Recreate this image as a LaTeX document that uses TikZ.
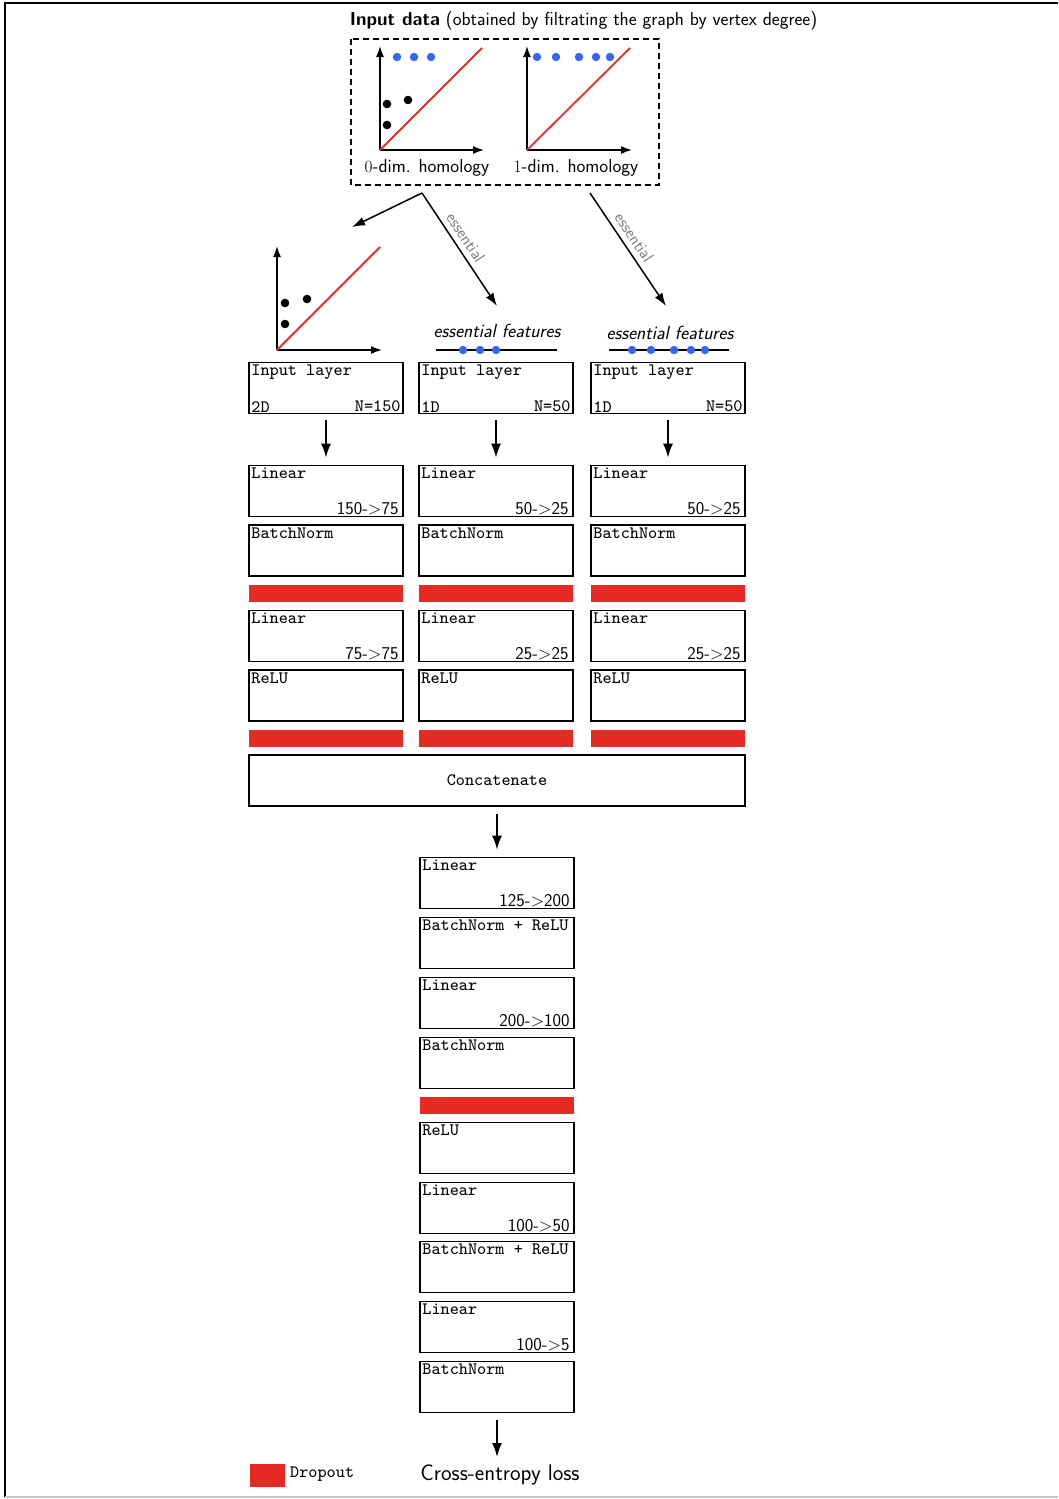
\documentclass[tikz,border=0pt]{standalone}
\usepackage{fontspec}
\usetikzlibrary{arrows.meta}
\newfontfamily\boxtt{lmmono9-regular}[Extension=.otf]
\definecolor{dropred}{RGB}{229,43,35}
\definecolor{diagred}{RGB}{232,45,40}
\definecolor{dotblue}{RGB}{55,100,240}
\newcommand\boxTL[2]{\node[anchor=north west, inner xsep=3pt, inner ysep=3pt, lab] at (#1.north west) {#2};}
\newcommand\boxBL[2]{\node[anchor=south west, inner xsep=3pt, inner ysep=2pt, lab] at (#1.south west) {#2};}
\newcommand\boxBR[2]{\node[anchor=south east, inner xsep=3pt, inner ysep=2pt, lab] at (#1.south east) {#2};}
\newcommand\boxBRs[2]{\node[anchor=south east, inner xsep=5pt, inner ysep=2pt, labs] at (#1.south east) {#2};}
\begin{document}
\begin{tikzpicture}[x=1pt,y=-1pt,
  layer/.style={draw, line width=1.6pt, minimum width=154pt, minimum height=51pt, inner sep=0pt},
  drop/.style={fill=dropred, minimum width=154pt, minimum height=17pt, inner sep=0pt},
  lab/.style={font=\fontsize{17.4}{20}\selectfont\boxtt},
  labs/.style={font=\fontsize{18}{21}\selectfont\sffamily},
  arr/.style={line width=1.8pt, -{Latex[length=14pt,width=10pt]}},
  axis/.style={line width=1.6pt, -{Latex[length=11pt,width=8pt]}},
  diag/.style={diagred, line width=1.8pt},
  bdot/.style={fill=black},
  udot/.style={fill=dotblue},
  esslab/.style={font=\fontsize{17}{19}\selectfont\sffamily, text=gray},
  txt/.style={font=\fontsize{18.8}{22}\selectfont\sffamily}
]
\useasboundingbox (0,0) rectangle (1058,1499);
% frame
\draw[line width=1.4pt] (5,1497) -- (5,3) -- (1058,3);
\draw[black!22, line width=1.6pt] (5,1497) -- (1058,1497);

% title
\node[txt] (title) at (583.5,21) {\textbf{Input data} (obtained by filtrating the graph by vertex degree)};
\draw[line width=1.5pt, dash pattern=on 6pt off 4pt] (351,39) rectangle (659,185);

% plot 0-dim
\draw[axis] (380,150) -- (380,46);
\draw[axis] (380,150) -- (484,150);
\draw[diag] (380,150) -- (482,48);
\foreach \x in {397,414,431} \fill[udot] (\x,57) circle (4.2pt);
\fill[bdot] (387,104) circle (4.3pt) (408,100) circle (4.3pt) (387,125) circle (4.3pt);
\node[txt] (l0) at (427,168) {$0$-dim. homology};

% plot 1-dim
\draw[axis] (527,150) -- (527,46);
\draw[axis] (527,150) -- (632,150);
\draw[diag] (527,150) -- (630,48);
\foreach \x in {537,556,579,596,610} \fill[udot] (\x,57) circle (4.2pt);
\node[txt] (l1) at (576,168) {$1$-dim. homology};

% split arrows
\coordinate (split) at (422,193);
\coordinate (tip2d) at (352,227);
\coordinate (tipE1) at (497,306);
\coordinate (split2) at (590,193);
\coordinate (tipE2) at (666,306);
\draw[line width=1.5pt, -{Latex[length=13pt,width=9pt]}] (split) -- (tip2d);
\draw[line width=1.5pt, -{Latex[length=13pt,width=9pt]}] (split) -- node[pos=0.45, sloped, above=2pt, esslab] {essential} (tipE1);
\draw[line width=1.5pt, -{Latex[length=13pt,width=9pt]}] (split2) -- node[pos=0.45, sloped, above=2pt, esslab] {essential} (tipE2);

% 2D plot
\draw[axis] (277,350) -- (277,246);
\draw[axis] (277,350) -- (382,350);
\draw[diag] (277,350) -- (380,247);
\fill[bdot] (285,303) circle (4.3pt) (307,299) circle (4.3pt) (285,324) circle (4.3pt);

% essential features
\node[font=\fontsize{19}{22}\selectfont\sffamily\itshape] (ef1) at (497,331) {essential features};
\draw[line width=1.4pt] (436,350) -- (557,350);
\foreach \x in {463,480,496} \fill[udot] (\x,350) circle (4.2pt);
\node[font=\fontsize{19}{22}\selectfont\sffamily\itshape] (ef2) at (670,333) {essential features};
\draw[line width=1.4pt] (609,350) -- (729,350);
\foreach \x in {632,651,674,691,705} \fill[udot] (\x,350) circle (4.2pt);

% column A
\node[layer] (inA) at (326,388) {};
\node[layer] (linA1) at (326,491) {};
\node[layer] (bnA) at (326,550.5) {};
\node[drop] (dA1) at (326,593.5) {};
\node[layer] (linA2) at (326,636) {};
\node[layer] (reA) at (326,695.5) {};
\node[drop] (dA2) at (326,738.5) {};
% column B
\node[layer] (inB) at (496,388) {};
\node[layer] (linB1) at (496,491) {};
\node[layer] (bnB) at (496,550.5) {};
\node[drop] (dB1) at (496,593.5) {};
\node[layer] (linB2) at (496,636) {};
\node[layer] (reB) at (496,695.5) {};
\node[drop] (dB2) at (496,738.5) {};
% column C
\node[layer] (inC) at (668,388) {};
\node[layer] (linC1) at (668,491) {};
\node[layer] (bnC) at (668,550.5) {};
\node[drop] (dC1) at (668,593.5) {};
\node[layer] (linC2) at (668,636) {};
\node[layer] (reC) at (668,695.5) {};
\node[drop] (dC2) at (668,738.5) {};

\boxTL{inA}{Input layer}\boxBL{inA}{2D}\boxBR{inA}{N=150}
\boxTL{inB}{Input layer}\boxBL{inB}{1D}\boxBR{inB}{N=50}
\boxTL{inC}{Input layer}\boxBL{inC}{1D}\boxBR{inC}{N=50}
\boxTL{linA1}{Linear}\boxBRs{linA1}{150->75}
\boxTL{linB1}{Linear}\boxBRs{linB1}{50->25}
\boxTL{linC1}{Linear}\boxBRs{linC1}{50->25}
\boxTL{bnA}{BatchNorm}\boxTL{bnB}{BatchNorm}\boxTL{bnC}{BatchNorm}
\boxTL{linA2}{Linear}\boxBRs{linA2}{75->75}
\boxTL{linB2}{Linear}\boxBRs{linB2}{25->25}
\boxTL{linC2}{Linear}\boxBRs{linC2}{25->25}
\boxTL{reA}{ReLU}\boxTL{reB}{ReLU}\boxTL{reC}{ReLU}

\draw[arr, shorten <=6pt, shorten >=7pt] (inA) -- (linA1);
\draw[arr, shorten <=6pt, shorten >=7pt] (inB) -- (linB1);
\draw[arr, shorten <=6pt, shorten >=7pt] (inC) -- (linC1);

% concatenate
\node[layer, minimum width=496pt, lab] (cat) at (497,780.5) {Concatenate};

% central column
\node[layer] (m1) at (497,883) {};
\node[layer] (m2) at (497,943) {};
\node[layer] (m3) at (497,1003) {};
\node[layer] (m4) at (497,1063) {};
\node[drop] (md) at (497,1105.5) {};
\node[layer] (m5) at (497,1148) {};
\node[layer] (m6) at (497,1208) {};
\node[layer] (m7) at (497,1267) {};
\node[layer] (m8) at (497,1327) {};
\node[layer] (m9) at (497,1387) {};
\boxTL{m1}{Linear}\boxBRs{m1}{125->200}
\boxTL{m2}{BatchNorm + ReLU}
\boxTL{m3}{Linear}\boxBRs{m3}{200->100}
\boxTL{m4}{BatchNorm}
\boxTL{m5}{ReLU}
\boxTL{m6}{Linear}\boxBRs{m6}{100->50}
\boxTL{m7}{BatchNorm + ReLU}
\boxTL{m8}{Linear}\boxBRs{m8}{100->5}
\boxTL{m9}{BatchNorm}

\draw[arr, shorten <=7pt, shorten >=7pt] (cat.south -| m1) -- (m1);
\node[font=\fontsize{22.5}{26}\selectfont\sffamily] (loss) at (500,1475) {Cross-entropy loss};
\coordinate (lossTop) at (497,1457);
\draw[arr, shorten <=7pt] (m9) -- (lossTop);

% legend
\node[drop, minimum width=35pt, minimum height=23pt] (leg) at (267.5,1475.5) {};
\node[anchor=west, inner sep=0pt, lab] (legt) at (290,1474) {Dropout};
\end{tikzpicture}
\end{document}
